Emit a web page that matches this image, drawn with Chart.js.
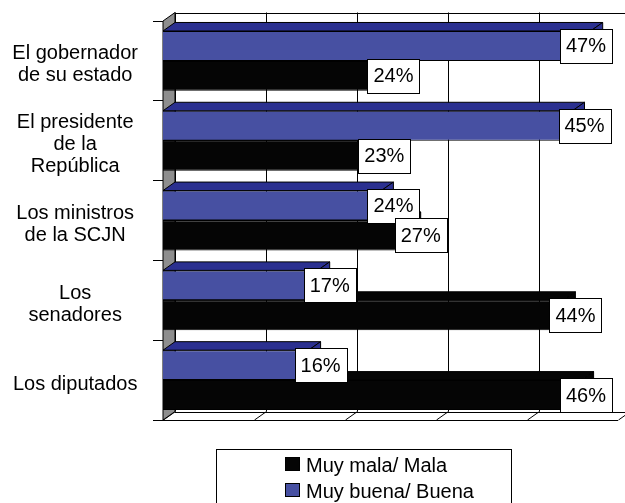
<!DOCTYPE html>
<html>
<head>
<meta charset="utf-8">
<script src="https://cdn.jsdelivr.net/npm/chart.js@4/dist/chart.umd.min.js"></script>
<style>
html,body{margin:0;padding:0;background:#fff;overflow:hidden;}
canvas{display:block;}
</style>
</head>
<body>
<canvas id="c" width="625" height="503"></canvas>
<script>
// ---- data ----
const categories = [
  ["El gobernador", "de su estado"],
  ["El presidente", "de la", "República"],
  ["Los ministros", "de la SCJN"],
  ["Los", "senadores"],
  ["Los diputados"]
];
const buenaValues = [47, 45, 24, 17, 16];
const malaValues = [24, 23, 27, 44, 46];
const xTicks = [0, 10, 20, 30, 40, 50];
const seriesNames = ["Muy buena/ Buena", "Muy mala/ Mala"];

// ---- style ----
const FONT = '"Liberation Sans", Arial, sans-serif';
const DX = 12, DY = 8.5;
const BLUE = '#4750A2', BLUE_DARK = '#2B3090', BLACK = '#050505', WALL = '#8E8E8E';

function poly(ctx, pts, fill) {
  ctx.beginPath();
  ctx.moveTo(pts[0][0], pts[0][1]);
  for (let i = 1; i < pts.length; i++) ctx.lineTo(pts[i][0], pts[i][1]);
  ctx.closePath();
  if (fill) { ctx.fillStyle = fill; ctx.fill(); }
  ctx.strokeStyle = '#000';
  ctx.lineWidth = 1;
  ctx.stroke();
}

const threeD = {
  id: 'threeD',
  beforeDatasetsDraw(chart) {
    const ctx = chart.ctx, a = chart.chartArea, xs = chart.scales.x;
    ctx.save();
    ctx.lineWidth = 1;
    ctx.strokeStyle = '#000';
    const topB = a.top - DY, botB = a.bottom - DY;
    // back wall top line
    ctx.beginPath();
    ctx.moveTo(a.left + DX, Math.round(topB) + 0.5);
    ctx.lineTo(chart.width + 20, Math.round(topB) + 0.5);
    ctx.stroke();
    // back wall gridlines + floor slants
    xTicks.forEach(v => {
      const px = Math.round(xs.getPixelForValue(v)) + 0.5;
      ctx.beginPath();
      ctx.moveTo(px + DX, topB);
      ctx.lineTo(px + DX, botB);
      ctx.stroke();
      ctx.beginPath();
      ctx.moveTo(px, a.bottom);
      ctx.lineTo(px + DX, botB);
      ctx.stroke();
    });
    // floor back & front lines
    const rightPx = xs.getPixelForValue(xTicks[xTicks.length - 1]);
    ctx.beginPath();
    ctx.moveTo(a.left + DX, Math.round(botB) + 0.5);
    ctx.lineTo(rightPx + DX, Math.round(botB) + 0.5);
    ctx.moveTo(a.left, a.bottom + 0.5);
    ctx.lineTo(rightPx, a.bottom + 0.5);
    ctx.stroke();
    // left side wall
    poly(ctx, [[a.left, a.top], [a.left + DX, topB], [a.left + DX, botB], [a.left, a.bottom]], WALL);
    ctx.restore();
  },
  beforeDatasetDraw(chart, args) {
    const ctx = chart.ctx;
    const ds = chart.data.datasets[args.index];
    ctx.save();
    args.meta.data.forEach(el => {
      const p = el.getProps(['x', 'y', 'base', 'height'], true);
      const t = p.y - p.height / 2, b = p.y + p.height / 2;
      poly(ctx, [[p.base, t], [p.base + DX, t - DY], [p.x + DX, t - DY], [p.x, t]], ds.topColor);
      poly(ctx, [[p.x, t], [p.x + DX, t - DY], [p.x + DX, b - DY], [p.x, b]], ds.topColor);
    });
    ctx.restore();
  },
  afterDatasetsDraw(chart) {
    const ctx = chart.ctx;
    ctx.save();
    ctx.font = '20px ' + FONT;
    ctx.textAlign = 'center';
    ctx.textBaseline = 'middle';
    const W = 52, H = 34, maxRight = 612;
    chart.data.datasets.forEach((ds, di) => {
      chart.getDatasetMeta(di).data.forEach((el, i) => {
        const p = el.getProps(['x', 'y'], true);
        let cx = p.x + DX;
        if (cx + W / 2 > maxRight) cx = maxRight - W / 2;
        const x0 = Math.round(cx - W / 2) + 0.5, y0 = Math.round(p.y - H / 2) + 0.5;
        ctx.fillStyle = '#fff';
        ctx.fillRect(x0, y0, W, H);
        ctx.strokeStyle = '#000';
        ctx.lineWidth = 1;
        ctx.strokeRect(x0, y0, W, H);
        ctx.fillStyle = '#000';
        ctx.fillText(ds.data[i] + '%', cx, p.y + 1);
      });
    });
    ctx.restore();
  },
  afterDraw(chart) {
    // legend box
    const ctx = chart.ctx;
    ctx.save();
    ctx.strokeStyle = '#000';
    ctx.lineWidth = 1;
    ctx.strokeRect(216.5, 449.5, 295, 70);
    ctx.font = '20px ' + FONT;
    ctx.textBaseline = 'middle';
    ctx.textAlign = 'left';
    const order = [1, 0];
    order.forEach((di, k) => {
      const ds = chart.data.datasets[di];
      const cy = 465 + k * 26;
      ctx.fillStyle = ds.backgroundColor;
      ctx.fillRect(285.5, cy - 7.5, 14, 13);
      ctx.strokeRect(285.5, cy - 7.5, 14, 13);
      ctx.fillStyle = '#000';
      ctx.fillText(ds.label, 306, cy + 1);
    });
    ctx.restore();
  }
};

new Chart(document.getElementById('c'), {
  type: 'bar',
  data: {
    labels: categories,
    datasets: [
      { label: seriesNames[0], data: buenaValues, backgroundColor: BLUE, topColor: BLUE_DARK,
        borderColor: '#000', borderWidth: 1, categoryPercentage: 0.75, barPercentage: 1.0 },
      { label: seriesNames[1], data: malaValues, backgroundColor: BLACK, topColor: BLACK,
        borderColor: '#000', borderWidth: 1, categoryPercentage: 0.75, barPercentage: 1.0 }
    ]
  },
  options: {
    indexAxis: 'y',
    responsive: false,
    animation: false,
    devicePixelRatio: 1,
    layout: { padding: { left: 0, top: 21, right: 7, bottom: 83 } },
    plugins: { legend: { display: false }, tooltip: { enabled: false } },
    scales: {
      x: {
        display: false,
        min: 0, max: 50,
        afterBuildTicks: s => { s.ticks = xTicks.map(v => ({ value: v })); }
      },
      y: {
        afterFit: s => { s.width = 163; s.paddingTop = 0; s.paddingBottom = 0; },
        grid: { offset: true, drawOnChartArea: false, color: '#000', tickLength: 10, tickColor: '#000' },
        border: { display: true, color: '#000' },
        ticks: {
          crossAlign: 'center',
          padding: 15,
          labelOffset: 4,
          color: '#000',
          font: { family: FONT, size: 20, lineHeight: 1.1 }
        }
      }
    }
  },
  plugins: [threeD]
});
</script>
</body>
</html>
